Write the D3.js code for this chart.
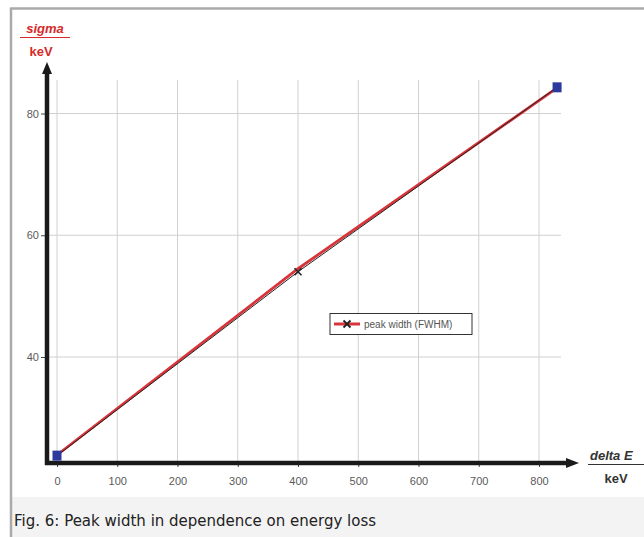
<!DOCTYPE html>
<html><head><meta charset="utf-8">
<script src="https://cdn.jsdelivr.net/npm/d3@7"></script>
<style>
html,body{margin:0;padding:0;background:#fff;}
svg{display:block;}
</style></head>
<body>
<svg id="c" width="644" height="537"></svg>
<script>
const xTicks = [0,100,200,300,400,500,600,700,800];
const yTicks = [40,60,80];
const energyLoss = [0,400,830];
const peakWidth = [23.8,54.0,84.3];
const fitWidth = [23.9,54.5,84.2];
const legendLabel = "peak width (FWHM)";
const caption = "Fig. 6: Peak width in dependence on energy loss";

const svg = d3.select("#c");
// frame + caption area
svg.append("rect").attr("x",12).attr("y",497).attr("width",632).attr("height",40).attr("fill","#f3f3f3");
svg.append("line").attr("x1",11).attr("x2",11).attr("y1",8).attr("y2",537).attr("stroke","#aaa").attr("stroke-width",2.5);
svg.append("line").attr("x1",10).attr("x2",644).attr("y1",8.5).attr("y2",8.5).attr("stroke","#aaa").attr("stroke-width",2.5);
svg.append("text").attr("x",14).attr("y",526).attr("font-family","DejaVu Sans").attr("font-size",15).attr("fill","#222").text(caption);

const x = d3.scaleLinear().domain([0,800]).range([57,539]);
const y = d3.scaleLinear().domain([40,80]).range([357,113.5]);

// grid
const g = svg.append("g");
g.selectAll(".vg").data(xTicks).join("line")
  .attr("x1",d=>x(d)).attr("x2",d=>x(d)).attr("y1",80).attr("y2",462)
  .attr("stroke","#d0d0d0").attr("stroke-width",1);
g.selectAll(".hg").data(yTicks).join("line")
  .attr("x1",47).attr("x2",561).attr("y1",d=>y(d)).attr("y2",d=>y(d))
  .attr("stroke","#d0d0d0").attr("stroke-width",1);

// axes via d3 axis for ticks
const xAxis = svg.append("g").attr("transform","translate(0,462)")
  .call(d3.axisBottom(x).tickValues(xTicks).tickSize(5).tickPadding(10));
const yAxis = svg.append("g").attr("transform","translate(47,0)")
  .call(d3.axisLeft(y).tickValues(yTicks).tickSize(6).tickPadding(2));
[xAxis,yAxis].forEach(a=>{
  a.select(".domain").remove();
  a.selectAll(".tick line").attr("stroke","#444").attr("stroke-width",1);
  a.selectAll(".tick text").attr("font-family","Liberation Sans, Arial, sans-serif").attr("font-size",11).attr("fill","#5a5a5a");
});

// thick axis lines with arrows
svg.append("line").attr("x1",45).attr("x2",568).attr("y1",463).attr("y2",463).attr("stroke","#1a1a1a").attr("stroke-width",4.5);
svg.append("path").attr("d","M566,458 L579,463 L566,468 Z").attr("fill","#1a1a1a");
svg.append("line").attr("x1",47).attr("x2",47).attr("y1",465).attr("y2",72).attr("stroke","#1a1a1a").attr("stroke-width",4.5);
svg.append("path").attr("d","M42,74 L47,62 L52,74 Z").attr("fill","#1a1a1a");

// axis titles
const tf = "Liberation Sans, Arial, sans-serif";
svg.append("text").attr("x",45).attr("y",33).attr("text-anchor","middle").attr("font-family",tf).attr("font-size",13)
  .attr("font-weight","bold").attr("font-style","italic").attr("fill","#d42a2a").text("sigma");
svg.append("line").attr("x1",20).attr("x2",70).attr("y1",37.5).attr("y2",37.5).attr("stroke","#d42a2a").attr("stroke-width",1.2);
svg.append("text").attr("x",41).attr("y",56).attr("text-anchor","middle").attr("font-family",tf).attr("font-size",13)
  .attr("font-weight","bold").attr("fill","#d42a2a").text("keV");
svg.append("text").attr("x",590).attr("y",460).attr("font-family",tf).attr("font-size",13)
  .attr("font-weight","bold").attr("font-style","italic").attr("fill","#333").text("delta E");
svg.append("line").attr("x1",588).attr("x2",644).attr("y1",464.5).attr("y2",464.5).attr("stroke","#333").attr("stroke-width",1.2);
svg.append("text").attr("x",616).attr("y",483).attr("text-anchor","middle").attr("font-family",tf).attr("font-size",13)
  .attr("font-weight","bold").attr("fill","#333").text("keV");

// series
const pts = energyLoss.map((e,i)=>({x:e,y:peakWidth[i]}));
const fpts = energyLoss.map((e,i)=>({x:e,y:fitWidth[i]}));
const line = d3.line().x(d=>x(d.x)).y(d=>y(d.y));
svg.append("path").datum(fpts).attr("d",line).attr("fill","none").attr("stroke","#d8343a").attr("stroke-width",2.8);
svg.append("path").datum(pts).attr("d",line).attr("fill","none").attr("stroke","#222").attr("stroke-width",1);
// x markers on inner points
svg.selectAll(".xm").data(pts.slice(1,-1)).join("path")
  .attr("d",d=>{const cx=x(d.x),cy=y(d.y);return `M${cx-3.5},${cy-3.5}L${cx+3.5},${cy+3.5}M${cx-3.5},${cy+3.5}L${cx+3.5},${cy-3.5}`;})
  .attr("stroke","#222").attr("stroke-width",1.6);
// blue squares at ends
svg.selectAll(".sq").data([pts[0],pts[pts.length-1]]).join("rect")
  .attr("x",d=>x(d.x)-4.5).attr("y",d=>y(d.y)-5).attr("width",9).attr("height",10).attr("fill","#2c3a9e");

// legend
svg.append("rect").attr("x",330).attr("y",313.5).attr("width",142).attr("height",21).attr("fill","#fff").attr("stroke","#333").attr("stroke-width",1);
svg.append("line").attr("x1",334).attr("x2",360).attr("y1",324).attr("y2",324).attr("stroke","#d8343a").attr("stroke-width",3);
svg.append("path").attr("d","M343.5,320.5L350.5,327.5M343.5,327.5L350.5,320.5").attr("stroke","#222").attr("stroke-width",1.8);
svg.append("text").attr("x",364).attr("y",328).attr("font-family",tf).attr("font-size",10).attr("fill","#555").text(legendLabel);
</script>
</body></html>
